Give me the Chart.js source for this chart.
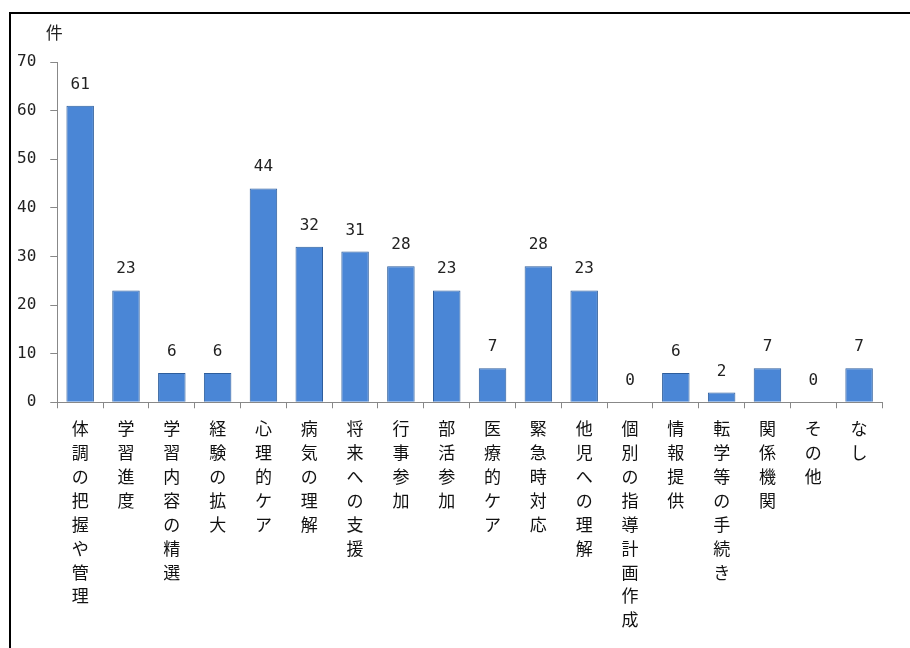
<!DOCTYPE html>
<html lang="ja">
<head>
<meta charset="utf-8">
<title>件数</title>
<script src="https://cdn.jsdelivr.net/npm/chart.js@4"></script>
<style>
  html, body { margin: 0; padding: 0; background: #fff; }
  #wrap { position: relative; width: 910px; height: 648px; overflow: hidden; }
  #frame { position: absolute; left: 9px; top: 12px; width: 920px; height: 660px;
           border-left: 2px solid #000; border-top: 2px solid #000; box-sizing: border-box; }
  canvas { position: absolute; left: 0; top: 0; }
</style>
</head>
<body>
<div id="wrap">
  <div id="frame"></div>
  <canvas id="grafico" width="910" height="648"></canvas>
</div>
<script>
const categorias = ['体調の把握や管理', '学習進度', '学習内容の精選', '経験の拡大', '心理的ケア',
  '病気の理解', '将来への支援', '行事参加', '部活参加', '医療的ケア', '緊急時対応',
  '他児への理解', '個別の指導計画作成', '情報提供', '転学等の手続き', '関係機関', 'その他', 'なし'];
const valores = [61, 23, 6, 6, 44, 32, 31, 28, 23, 7, 28, 23, 0, 6, 2, 7, 0, 7];
const marcasY = [0, 10, 20, 30, 40, 50, 60, 70];

const fuente = '"Noto Sans CJK JP", "Noto Sans", sans-serif';
const fuenteNum = '"DejaVu Sans Mono", monospace';

// etiquetas verticales: un caracter por linea
const etiquetasVerticales = categorias.map(c => Array.from(c));

// numeros encima de cada barra y la unidad arriba del eje
const rotulos = {
  id: 'rotulos',
  afterDatasetsDraw(chart) {
    const ctx = chart.ctx;
    const meta = chart.getDatasetMeta(0);
    ctx.save();
    ctx.fillStyle = '#222';
    ctx.font = '16px ' + fuenteNum;
    ctx.textAlign = 'center';
    ctx.textBaseline = 'alphabetic';
    meta.data.forEach((barra, i) => {
      ctx.fillText(String(valores[i]), barra.x, barra.y - 17);
    });
    const y = chart.scales.y;
    ctx.font = '17px ' + fuente;
    ctx.fillText('件', y.right - 3, y.getPixelForValue(70) - 23);
    ctx.restore();
  }
};

new Chart(document.getElementById('grafico').getContext('2d'), {
  type: 'bar',
  data: {
    labels: etiquetasVerticales,
    datasets: [{
      data: valores,
      backgroundColor: '#4a86d6',
      borderColor: '#2d5d9c',
      borderWidth: 1,
      categoryPercentage: 0.6,
      barPercentage: 1
    }]
  },
  options: {
    responsive: false,
    animation: false,
    layout: { padding: { top: 62, right: 28, bottom: 8, left: 3 } },
    plugins: { legend: { display: false }, tooltip: { enabled: false } },
    scales: {
      x: {
        grid: { drawOnChartArea: false, tickLength: 6, color: '#888' },
        border: { color: '#888', width: 1 },
        ticks: {
          maxRotation: 0, minRotation: 0, autoSkip: false, padding: 8,
          color: '#111', font: { family: fuente, size: 17, lineHeight: 1.41 }
        }
      },
      y: {
        min: 0, max: 70,
        afterBuildTicks(eje) { eje.ticks = marcasY.map(v => ({ value: v })); },
        grid: { drawOnChartArea: false, tickLength: 7, color: '#888' },
        border: { color: '#888', width: 1 },
        ticks: { padding: 14, color: '#222', font: { family: fuenteNum, size: 16 } }
      }
    }
  },
  plugins: [rotulos]
});
</script>
</body>
</html>
